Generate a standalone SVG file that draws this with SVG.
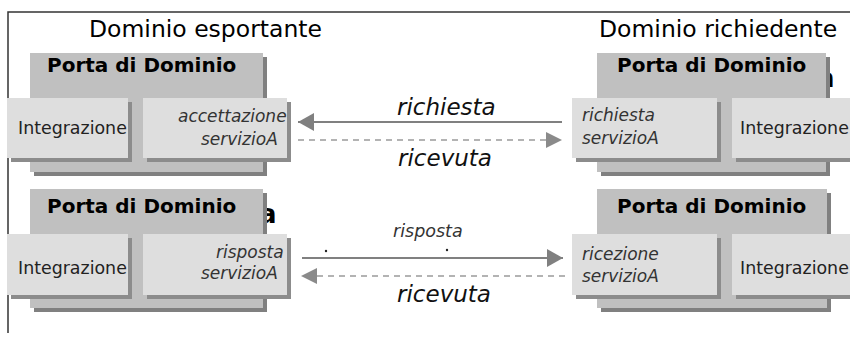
<svg xmlns="http://www.w3.org/2000/svg" width="850" height="338" viewBox="0 0 850 338">
<style>
.frame{stroke:#333;stroke-width:1.5;fill:none}
.title{font-family:"DejaVu Sans",Verdana,sans-serif;font-size:23.5px;fill:#000}
.pd{fill:#c0c0c0}
.pdsh{fill:#808080}
.pdt{font-family:"DejaVu Sans",Verdana,sans-serif;font-weight:bold;font-size:20px;fill:#000}
.hid{font-family:"DejaVu Sans",Verdana,sans-serif;font-weight:bold;font-size:26px;fill:#000}
.box{fill:#dedede}
.boxsh{fill:#8c8c8c}
.int{font-family:"DejaVu Sans",Verdana,sans-serif;font-size:17.4px;fill:#222}
.svc{font-family:"DejaVu Sans",Verdana,sans-serif;font-style:italic;font-size:17px;fill:#333}
.msg{font-family:"DejaVu Sans",Verdana,sans-serif;font-style:italic;font-size:23px;fill:#111}
.small{font-family:"DejaVu Sans",Verdana,sans-serif;font-style:italic;font-size:17.5px;fill:#333}
.solid{stroke:#808080;stroke-width:2;fill:none}
.dash{stroke:#9a9a9a;stroke-width:1.5;stroke-dasharray:6 5;fill:none}
</style>
<defs>
<marker id="ah" markerUnits="userSpaceOnUse" markerWidth="16" markerHeight="18" viewBox="0 0 16 18" refX="16" refY="9" orient="auto">
<path d="M0,0 L16,9 L0,18 z" fill="#808080"/>
</marker>
<marker id="ahd" markerUnits="userSpaceOnUse" markerWidth="16" markerHeight="16" viewBox="0 0 16 16" refX="16" refY="8" orient="auto">
<path d="M0,0 L16,8 L0,16 z" fill="#8a8a8a"/>
</marker>
</defs>

<g id="frame">
<path class="frame" d="M8,333 L8,12 L850,12"/>
</g>

<g id="titles">
<text class="title" x="89" y="37">Dominio esportante</text>
<text class="title" x="599" y="37">Dominio richiedente</text>
</g>

<g id="hidden-fragments">
<text class="hid" x="259" y="223">a</text>
<text class="hid" x="817" y="87">a</text>
</g>

<g id="pd-esportante-top">
<rect class="pdsh" x="34" y="57" width="233" height="119"/>
<rect class="pd" x="30" y="53" width="233" height="119"/>
<text class="pdt" x="47" y="72">Porta di Dominio</text>
<g id="int-esp-top">
<rect class="boxsh" x="11" y="102" width="121" height="60"/>
<rect class="box" x="7" y="98" width="121" height="60"/>
<text class="int" x="18" y="134">Integrazione</text>
</g>
<g id="accettazione">
<rect class="boxsh" x="147" y="102" width="144" height="60"/>
<rect class="box" x="143" y="98" width="144" height="60"/>
<text class="svc" x="178" y="122">accettazione</text>
<text class="svc" x="201" y="145">servizioA</text>
</g>
</g>

<g id="pd-richiedente-top">
<rect class="pdsh" x="601" y="57" width="229" height="119"/>
<rect class="pd" x="597" y="53" width="229" height="119"/>
<text class="pdt" x="617" y="72">Porta di Dominio</text>
<g id="richiesta">
<rect class="boxsh" x="576" y="102" width="145" height="60"/>
<rect class="box" x="572" y="98" width="145" height="60"/>
<text class="svc" x="582" y="121">richiesta</text>
<text class="svc" x="582" y="144">servizioA</text>
</g>
<g id="int-ric-top">
<rect class="boxsh" x="736" y="102" width="114" height="60"/>
<rect class="box" x="732" y="98" width="118" height="60"/>
<text class="int" x="740" y="134">Integrazione</text>
</g>
</g>

<g id="pd-esportante-bottom">
<rect class="pdsh" x="34" y="193" width="233" height="119"/>
<rect class="pd" x="30" y="189" width="233" height="119"/>
<text class="pdt" x="47" y="213">Porta di Dominio</text>
<g id="int-esp-bottom">
<rect class="boxsh" x="11" y="238" width="121" height="61"/>
<rect class="box" x="7" y="234" width="121" height="61"/>
<text class="int" x="18" y="274">Integrazione</text>
</g>
<g id="risposta">
<rect class="boxsh" x="147" y="238" width="144" height="61"/>
<rect class="box" x="143" y="234" width="144" height="61"/>
<text class="svc" x="216" y="258">risposta</text>
<text class="svc" x="201" y="279">servizioA</text>
</g>
</g>

<g id="pd-richiedente-bottom">
<rect class="pdsh" x="601" y="193" width="230" height="119"/>
<rect class="pd" x="597" y="189" width="230" height="119"/>
<text class="pdt" x="617" y="213">Porta di Dominio</text>
<g id="ricezione">
<rect class="boxsh" x="576" y="238" width="145" height="61"/>
<rect class="box" x="572" y="234" width="145" height="61"/>
<text class="svc" x="582" y="260">ricezione</text>
<text class="svc" x="582" y="282">servizioA</text>
</g>
<g id="int-ric-bottom">
<rect class="boxsh" x="736" y="238" width="114" height="61"/>
<rect class="box" x="732" y="234" width="118" height="61"/>
<text class="int" x="740" y="274">Integrazione</text>
</g>
</g>

<g id="connectors">
<line class="solid" x1="562" y1="122" x2="298" y2="122" marker-end="url(#ah)"/>
<line class="dash" x1="298" y1="140" x2="562" y2="140" marker-end="url(#ahd)"/>
<text class="msg" x="397" y="115">richiesta</text>
<text class="msg" x="398" y="166">ricevuta</text>
<line class="solid" x1="302" y1="258" x2="563" y2="258" marker-end="url(#ah)"/>
<line class="dash" x1="565" y1="276" x2="301" y2="276" marker-end="url(#ahd)"/>
<text class="small" x="393" y="237">risposta</text>
<circle cx="326" cy="251" r="1.2" fill="#222"/>
<circle cx="447" cy="250" r="1.2" fill="#222"/>
<text class="msg" x="397" y="302">ricevuta</text>
</g>
</svg>
